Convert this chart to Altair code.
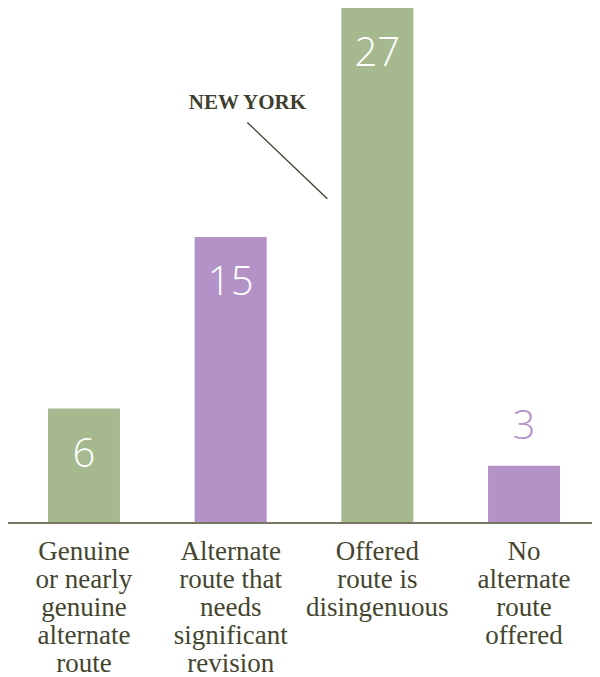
import altair as alt
import pandas as pd

categories = [
    "Genuine\nor nearly\ngenuine\nalternate\nroute",
    "Alternate\nroute that\nneeds\nsignificant\nrevision",
    "Offered\nroute is\ndisingenuous",
    "No\nalternate\nroute\noffered",
]
values = [6, 15, 27, 3]
bar_colors = ["#a5b88e", "#b393c7", "#a5b88e", "#b393c7"]
number_colors = ["#ffffff", "#ffffff", "#ffffff", "#b393c7"]

annotation_text = ["NEW YORK"]
annotation_category = [categories[2]]
annotation_text_y = [22.0]
annotation_line_from = [21.0]
annotation_line_to = [17.0]

SERIF = "Liberation Serif, DejaVu Serif, Times New Roman, serif"
TEXT_COLOR = "#45452f"

df = pd.DataFrame({
    "cat": categories,
    "value": values,
    "color": bar_colors,
    "ncolor": number_colors,
})
ann = pd.DataFrame({
    "cat": annotation_category,
    "text": annotation_text,
    "ty": annotation_text_y,
    "y1": annotation_line_from,
    "y2": annotation_line_to,
})

x_enc = alt.X(
    "cat:N",
    sort=categories,
    scale=alt.Scale(paddingInner=0.507, paddingOuter=0, range=[39.8, 552.2]),
    axis=None,
)
y_scale = alt.Scale(domain=[0, 27], nice=False, zero=True)

bars = alt.Chart(df).mark_bar(size=72).encode(
    x=x_enc,
    y=alt.Y("value:Q", scale=y_scale, axis=None),
    color=alt.Color("color:N", scale=None),
)

baseline = alt.Chart(df).transform_aggregate(
    zero="min(value)"
).transform_calculate(zero="0").mark_rule(color="#777763", strokeWidth=2).encode(
    y=alt.Y("zero:Q", scale=y_scale, axis=None),
    x=alt.value(-3),
    x2=alt.value(590),
)

cat_labels = alt.Chart(df).transform_calculate(zero="0").mark_text(
    baseline="top", align="center", font=SERIF, fontSize=27, fontWeight="normal",
    lineHeight=28, lineBreak="\n", color=TEXT_COLOR, dy=16,
).encode(
    x=x_enc,
    y=alt.Y("zero:Q", scale=y_scale, axis=None),
    text="cat:N",
)

num_in = alt.Chart(df).transform_filter("datum.value >= 5").mark_text(
    dy=46, baseline="middle", font="Open Sans", fontWeight=300, fontSize=40
).encode(
    x=x_enc,
    y=alt.Y("value:Q", scale=y_scale, axis=None),
    text="value:Q",
    color=alt.Color("ncolor:N", scale=None),
)

num_out = alt.Chart(df).transform_filter("datum.value < 5").mark_text(
    dy=-39, baseline="middle", font="Open Sans", fontWeight=300, fontSize=40
).encode(
    x=x_enc,
    y=alt.Y("value:Q", scale=y_scale, axis=None),
    text="value:Q",
    color=alt.Color("ncolor:N", scale=None),
)

ann_text = alt.Chart(ann).mark_text(
    dx=-130, baseline="middle", align="center", font=SERIF,
    fontWeight="bold", fontSize=21, color="#3f3f2f"
).encode(
    x=x_enc,
    y=alt.Y("ty:Q", scale=y_scale, axis=None),
    text="text:N",
)

ann_rule = alt.Chart(ann).mark_rule(
    xOffset=-130, x2Offset=-50, color="#3f3f2f", strokeWidth=1.3
).encode(
    x=x_enc,
    x2=alt.X2("cat"),
    y=alt.Y("y1:Q", scale=y_scale, axis=None),
    y2=alt.Y2("y2:Q"),
)

chart = alt.layer(
    bars, baseline, cat_labels, num_in, num_out, ann_text, ann_rule
).properties(
    width=584,
    height=515,
    autosize=alt.AutoSizeParams(type="none"),
    padding={"left": 0, "top": 0, "right": 0, "bottom": 153},
    background="white",
).configure_view(stroke=None)

chart.save("out.html", embed_options={"renderer": "svg", "actions": False})
